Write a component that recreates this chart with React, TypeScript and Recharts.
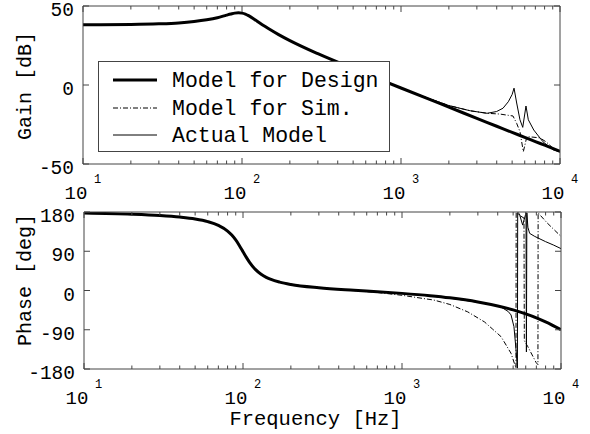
import React from 'react';
import { LineChart, Line, XAxis, YAxis, Legend } from 'recharts';

const FONT = "'Liberation Mono', 'DejaVu Sans Mono', 'Courier New', monospace";
const AXIS = '#444';

// ---- tick values / labels ----
const freqTicks = [
  10, 20, 30, 40, 50, 60, 70, 80, 90,
  100, 200, 300, 400, 500, 600, 700, 800, 900,
  1000, 2000, 3000, 4000, 5000, 6000, 7000, 8000, 9000,
  10000,
];
const majorFreq = [10, 100, 1000, 10000];
const freqExp = ['1', '2', '3', '4'];
const gainTicks = [-50, 0, 50];
const phaseTicks = [-180, -90, 0, 90, 180];
const legendNames = ['Model for Design', 'Model for Sim.', 'Actual Model'];

// ---- Model for Design ----
const designFreq = [10, 20, 30, 40, 50, 60, 70, 80, 85, 90, 95, 100, 105, 110, 120, 130, 140, 150, 170, 200, 300, 500, 700, 1000, 1500, 2000, 3000, 4000, 5000, 6000, 7000, 8000, 10000];
const designGain = [38.1, 38.3, 38.7, 39.3, 40.2, 41.3, 42.6, 44.2, 44.9, 45.5, 45.7, 45.5, 44.9, 43.9, 41.5, 39.1, 37.0, 35.1, 31.9, 28.1, 19.8, 10.4, 4.4, -1.9, -9.0, -14.0, -21.1, -26.1, -30.0, -33.1, -35.8, -38.1, -42.0];
const designPhase = [177.5, 174.8, 171.8, 168.3, 164.0, 158.0, 149.4, 136.3, 127.1, 115.9, 102.8, 89.1, 76.0, 64.6, 47.8, 37.2, 30.2, 25.3, 19.2, 13.8, 6.2, 0.5, -2.8, -6.6, -11.9, -16.8, -26.2, -35.4, -44.5, -53.6, -62.6, -71.7, -89.8];

// ---- Model for Sim. ----
const simGainFreq = [10, 20, 30, 40, 50, 60, 70, 80, 85, 90, 95, 100, 105, 110, 120, 130, 140, 150, 170, 200, 300, 500, 700, 1000, 1500, 2000, 2720, 3480, 4200, 4730, 5060, 5340, 5600, 5880, 6190, 6760, 7480, 8180, 9040, 10000];
const simGain = [38.1, 38.3, 38.7, 39.3, 40.2, 41.3, 42.6, 44.2, 44.9, 45.5, 45.7, 45.5, 44.9, 43.9, 41.5, 39.1, 37.0, 35.1, 31.9, 28.1, 19.8, 10.4, 4.4, -1.9, -8.6, -13.0, -16.3, -17.9, -18.4, -19.2, -19.6, -24.3, -29.5, -42.2, -32.7, -33.0, -33.5, -36.0, -40.0, -42.4];
const simPhaseFreq = [10, 20, 30, 40, 50, 60, 70, 80, 85, 90, 95, 100, 105, 110, 120, 130, 140, 150, 170, 200, 300, 500, 700, 1000, 1590, 2000, 2590, 3300, 3700, 4200, 4850, 5100, 5210, 5225, 5500, 5850, 5880, 6190, 6970, 7160, 7180, 8180, 10000];
const simPhase = [177.5, 174.8, 171.8, 168.3, 164.0, 158.0, 149.4, 136.3, 127.1, 115.9, 102.8, 89.1, 76.0, 64.6, 47.8, 37.2, 30.2, 25.3, 19.2, 13.8, 6.2, -0.5, -4.5, -11.0, -22.0, -32.0, -49.0, -72.0, -88.0, -106.0, -144.0, -168.0, -178.0, 178.0, 172.0, 166.0, -115.0, -129.0, -165.0, -170.0, 178.0, 155.0, 124.0];

// ---- Actual Model ----
const actualGainFreq = [10, 20, 30, 40, 50, 60, 70, 80, 85, 90, 95, 100, 105, 110, 120, 130, 140, 150, 170, 200, 300, 500, 700, 1000, 1500, 2000, 2720, 3480, 3990, 4380, 4730, 5000, 5140, 5340, 5600, 5830, 6110, 6320, 6840, 7810, 9040, 10000];
const actualGain = [38.1, 38.3, 38.7, 39.3, 40.2, 41.3, 42.6, 44.2, 44.9, 45.5, 45.7, 45.5, 44.9, 43.9, 41.5, 39.1, 37.0, 35.1, 31.9, 28.1, 19.8, 10.4, 4.4, -1.9, -8.6, -13.0, -16.3, -17.9, -16.8, -14.7, -10.6, -6.0, -2.0, -11.4, -22.0, -26.8, -13.3, -22.0, -28.5, -35.9, -41.0, -42.4];
const actualPhaseFreq = [10, 20, 30, 40, 50, 60, 70, 80, 85, 90, 95, 100, 105, 110, 120, 130, 140, 150, 170, 200, 300, 500, 700, 1000, 1500, 2000, 3000, 3500, 4200, 4650, 4850, 5060, 5215, 5320, 5340, 5470, 5740, 6026, 6060, 6100, 6190, 6350, 6840, 8000, 9000, 10000];
const actualPhase = [177.5, 174.8, 171.8, 168.3, 164.0, 158.0, 149.4, 136.3, 127.1, 115.9, 102.8, 89.1, 76.0, 64.6, 47.8, 37.2, 30.2, 25.3, 19.2, 13.8, 6.2, 0.5, -2.8, -7.0, -12.5, -17.5, -27.0, -31.0, -38.0, -48.0, -56.0, -83.0, -136.0, -178.0, 179.0, 176.0, 150.0, 178.0, -141.0, 178.0, 145.0, 131.0, 124.0, 112.0, 104.0, 96.0];

const toRows = (f: number[], v: number[]) => f.map((x, i) => ({ f: x, v: v[i] }));

const designGainData = toRows(designFreq, designGain);
const designPhaseData = toRows(designFreq, designPhase);
const simGainData = toRows(simGainFreq, simGain);
const simPhaseData = toRows(simPhaseFreq, simPhase);
const actualGainData = toRows(actualGainFreq, actualGain);
const actualPhaseData = toRows(actualPhaseFreq, actualPhase);

const DASHDOT = '5 2 1 2';

// ---- tick renderers ----
const BottomFreqTick = (props: any) => {
  const { x, y, payload } = props;
  const mi = majorFreq.indexOf(payload.value);
  const len = mi >= 0 ? 6 : 3.5;
  return (
    <g>
      <line x1={x} x2={x} y1={y} y2={y - len} stroke={AXIS} strokeWidth={1} />
      {mi >= 0 && (
        <g fontFamily={FONT} fill="#000">
          <text x={x - 7} y={y + 35} fontSize={19} textAnchor="middle">10</text>
          <text x={x + 14.5} y={y + 19} fontSize={12} textAnchor="middle">{freqExp[mi]}</text>
        </g>
      )}
    </g>
  );
};

const TopFreqTick = (props: any) => {
  const { x, y, payload } = props;
  const len = majorFreq.indexOf(payload.value) >= 0 ? 6 : 3.5;
  return <line x1={x} x2={x} y1={y} y2={y + len} stroke={AXIS} strokeWidth={1} />;
};

const LeftValueTick = (props: any) => {
  const { x, y, payload } = props;
  return (
    <g>
      <line x1={x} x2={x + 6} y1={y} y2={y} stroke={AXIS} strokeWidth={1} />
      <text x={x - 9} y={y + 10} fontSize={19.5} fontFamily={FONT} textAnchor="end" fill="#000">
        {String(payload.value)}
      </text>
    </g>
  );
};

const RightValueTick = (props: any) => {
  const { x, y } = props;
  return <line x1={x} x2={x - 6} y1={y} y2={y} stroke={AXIS} strokeWidth={1} />;
};

const YTitle = (props: any) => {
  const vb = props.viewBox || { x: 0, y: 0, width: 0, height: 0 };
  const cx = vb.x + 25;
  const cy = vb.y + vb.height / 2 + (props.shift || 0);
  return (
    <text
      x={cx}
      y={cy}
      transform={`rotate(-90 ${cx} ${cy})`}
      textAnchor="middle"
      dominantBaseline="central"
      fontSize={20}
      fontFamily={FONT}
      fill="#000"
    >
      {props.title}
    </text>
  );
};

const XTitle = (props: any) => {
  const vb = props.viewBox || { x: 0, y: 0, width: 0, height: 0 };
  return (
    <text
      x={vb.x + vb.width / 2 - 7}
      y={vb.y + 56}
      textAnchor="middle"
      fontSize={20.5}
      fontFamily={FONT}
      fill="#000"
    >
      Frequency [Hz]
    </text>
  );
};

const LegendBox = () => {
  const rows = [19, 47, 74];
  return (
    <svg width={292} height={91} style={{ display: 'block' }}>
      <rect x={0.5} y={0.5} width={291} height={90} fill="#fff" stroke={AXIS} strokeWidth={1} />
      <line x1={15} x2={59} y1={rows[0]} y2={rows[0]} stroke="#000" strokeWidth={3} />
      <line x1={15} x2={59} y1={rows[1]} y2={rows[1]} stroke="#000" strokeWidth={1} strokeDasharray={DASHDOT} />
      <line x1={15} x2={59} y1={rows[2]} y2={rows[2]} stroke="#000" strokeWidth={1} />
      {legendNames.map((n, i) => (
        <text key={n} x={74} y={rows[i] + 7} fontSize={21.5} fontFamily={FONT} fill="#000">
          {n}
        </text>
      ))}
    </svg>
  );
};

export default function App() {
  return (
    <div style={{ position: 'absolute', left: 0, top: 0, width: 590, height: 434, background: '#fff' }}>
      <div style={{ position: 'absolute', left: 0, top: 0 }}>
        <LineChart width={590} height={207} margin={{ top: 0, right: 0, bottom: 0, left: 0 }}>
          <XAxis
            xAxisId="b"
            dataKey="f"
            type="number"
            scale="log"
            domain={[10, 10000]}
            ticks={freqTicks}
            interval={0}
            tickSize={0}
            tickMargin={0}
            tickLine={false}
            tick={<BottomFreqTick />}
            height={43}
            axisLine={{ stroke: AXIS }}
            allowDataOverflow
          />
          <XAxis
            xAxisId="t"
            orientation="top"
            dataKey="f"
            type="number"
            scale="log"
            domain={[10, 10000]}
            ticks={freqTicks}
            interval={0}
            tickSize={0}
            tickMargin={0}
            tickLine={false}
            tick={<TopFreqTick />}
            height={6}
            axisLine={{ stroke: AXIS }}
            allowDataOverflow
          />
          <YAxis
            yAxisId="l"
            type="number"
            domain={[-50, 50]}
            ticks={gainTicks}
            interval={0}
            tickSize={0}
            tickMargin={0}
            tickLine={false}
            tick={<LeftValueTick />}
            width={83}
            axisLine={{ stroke: AXIS }}
            allowDataOverflow
            label={{ content: (p: any) => <YTitle {...p} title="Gain [dB]" shift={1} /> }}
          />
          <YAxis
            yAxisId="r"
            orientation="right"
            type="number"
            domain={[-50, 50]}
            ticks={gainTicks}
            interval={0}
            tickSize={0}
            tickMargin={0}
            tickLine={false}
            tick={<RightValueTick />}
            width={30}
            axisLine={{ stroke: AXIS }}
            allowDataOverflow
          />
          <Line xAxisId="b" yAxisId="l" data={simGainData} dataKey="v" name="Model for Sim." type="linear" stroke="#000" strokeWidth={1} strokeDasharray={DASHDOT} dot={false} isAnimationActive={false} />
          <Line xAxisId="b" yAxisId="l" data={actualGainData} dataKey="v" name="Actual Model" type="linear" stroke="#000" strokeWidth={1} dot={false} isAnimationActive={false} />
          <Line xAxisId="b" yAxisId="l" data={designGainData} dataKey="v" name="Model for Design" type="monotone" stroke="#000" strokeWidth={3} dot={false} isAnimationActive={false} />
          <Legend
            layout="horizontal"
            verticalAlign="middle"
            align="center"
            content={() => <LegendBox />}
            wrapperStyle={{ position: 'absolute', left: 98, top: 61, width: 292, height: 91, margin: 0, padding: 0 }}
          />
        </LineChart>
      </div>
      <div style={{ position: 'absolute', left: 0, top: 200 }}>
        <LineChart width={590} height={234} margin={{ top: 0, right: 0, bottom: 0, left: 0 }}>
          <XAxis
            xAxisId="b"
            dataKey="f"
            type="number"
            scale="log"
            domain={[10, 10000]}
            ticks={freqTicks}
            interval={0}
            tickSize={0}
            tickMargin={0}
            tickLine={false}
            tick={<BottomFreqTick />}
            height={65}
            axisLine={{ stroke: AXIS }}
            allowDataOverflow
            label={{ content: (p: any) => <XTitle {...p} /> }}
          />
          <XAxis
            xAxisId="t"
            orientation="top"
            dataKey="f"
            type="number"
            scale="log"
            domain={[10, 10000]}
            ticks={freqTicks}
            interval={0}
            tickSize={0}
            tickMargin={0}
            tickLine={false}
            tick={<TopFreqTick />}
            height={12}
            axisLine={{ stroke: AXIS }}
            allowDataOverflow
          />
          <YAxis
            yAxisId="l"
            type="number"
            domain={[-180, 180]}
            ticks={phaseTicks}
            interval={0}
            tickSize={0}
            tickMargin={0}
            tickLine={false}
            tick={<LeftValueTick />}
            width={84}
            axisLine={{ stroke: AXIS }}
            allowDataOverflow
            label={{ content: (p: any) => <YTitle {...p} title="Phase [deg]" shift={-10.5} /> }}
          />
          <YAxis
            yAxisId="r"
            orientation="right"
            type="number"
            domain={[-180, 180]}
            ticks={phaseTicks}
            interval={0}
            tickSize={0}
            tickMargin={0}
            tickLine={false}
            tick={<RightValueTick />}
            width={29}
            axisLine={{ stroke: AXIS }}
            allowDataOverflow
          />
          <Line xAxisId="b" yAxisId="l" data={simPhaseData} dataKey="v" name="Model for Sim." type="linear" stroke="#000" strokeWidth={1} strokeDasharray={DASHDOT} dot={false} isAnimationActive={false} />
          <Line xAxisId="b" yAxisId="l" data={actualPhaseData} dataKey="v" name="Actual Model" type="linear" stroke="#000" strokeWidth={1} dot={false} isAnimationActive={false} />
          <Line xAxisId="b" yAxisId="l" data={designPhaseData} dataKey="v" name="Model for Design" type="monotone" stroke="#000" strokeWidth={3} dot={false} isAnimationActive={false} />
        </LineChart>
      </div>
    </div>
  );
}
